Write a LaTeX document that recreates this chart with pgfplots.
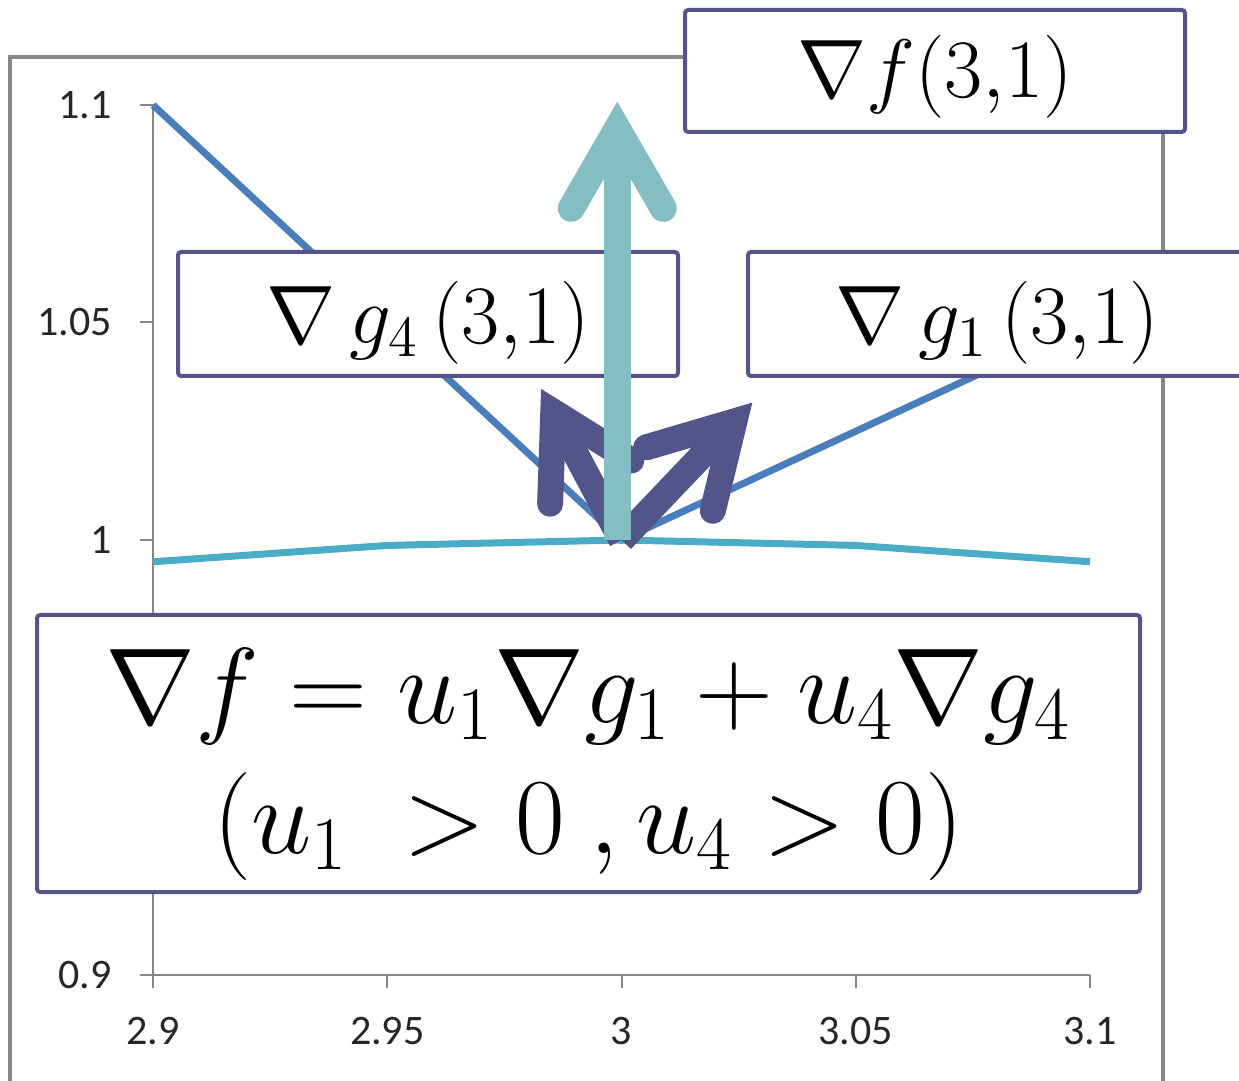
\RequirePackage{fix-cm}
\documentclass[border=0pt]{standalone}
\usepackage{fontspec}
\setmainfont{Carlito}
\usepackage{pgfplots}
\pgfplotsset{compat=1.18}
\usetikzlibrary{calc}

\definecolor{axisgray}{RGB}{134,134,134}
\definecolor{framegray}{RGB}{136,136,136}
\definecolor{boxpurple}{RGB}{84,84,138}
\definecolor{arrowpurple}{RGB}{82,84,138}
\definecolor{arrowteal}{RGB}{132,190,194}
\definecolor{lineblue}{RGB}{74,126,187}
\definecolor{curvecyan}{RGB}{75,172,198}

\begin{document}
\begin{tikzpicture}
\useasboundingbox (0,0) rectangle (309.75pt,270pt);
% chart area frame
\draw[framegray, line width=1pt] (2.5pt,-5pt) rectangle (290.75pt,255.75pt);

\begin{axis}[
  at={(38.25pt,26.25pt)}, anchor=south west,
  width=234.25pt, height=217.5pt, scale only axis,
  xmin=2.9, xmax=3.1, ymin=0.9, ymax=1.1,
  axis x line*=bottom, axis y line*=left,
  axis line style={axisgray, line width=0.5pt},
  xtick={2.9,2.95,3,3.05,3.1},
  xticklabels={2.9,2.95,3,3.05,3.1},
  ytick={0.9,0.95,1,1.05,1.1},
  yticklabels={0.9,0.95,1,1.05,1.1},
  tick align=outside,
  major tick length=3.25pt,
  tick style={axisgray, line width=0.5pt},
  ticklabel style={font=\fontsize{10.5}{12.5}\selectfont, text=black!85},
  xticklabel style={yshift=-3.75pt},
  yticklabel style={xshift=-3.5pt},
  clip=false,
]
% constraint boundaries g4 (left) and g1 (right)
\addplot[lineblue, line width=1.75pt] coordinates {
  (2.9,1.1) (2.95,1.05) (3,1) (3.05,1.025) (3.1,1.05)};
% level curve of f through (3,1)
\addplot[curvecyan, line width=1.75pt] coordinates {
  (2.9,0.995) (2.95,0.99875) (3,1) (3.05,0.99875) (3.1,0.995)};

% gradient vectors at (3,1): start points and arrowhead vertices
\coordinate (O)  at (axis cs:3,1);
\coordinate (Sf) at (axis cs:2.9991,1);
\coordinate (Vf) at (axis cs:2.9991,1.09455);
\coordinate (V4) at (axis cs:2.98544,1.02947);
\coordinate (V1) at (axis cs:3.02410,1.02726);
\end{axis}

% labels
\draw[boxpurple, line width=1pt, fill=white, rounded corners=0.8pt]
  (171.25pt,237pt) rectangle (296.25pt,267.5pt);
\node[font=\fontsize{20.75}{24}\selectfont] at (233.75pt,250.75pt) {$\nabla f(3{,}1)$};

\draw[boxpurple, line width=1pt, fill=white, rounded corners=0.8pt]
  (44.5pt,176pt) rectangle (169.5pt,207pt);
\node[font=\fontsize{20.75}{24}\selectfont] at (107pt,189.25pt) {$\nabla\,g_4\,(3{,}1)$};

\draw[boxpurple, line width=1pt, fill=white, rounded corners=0.8pt]
  (187pt,176pt) rectangle (311.5pt,207pt);
\node[font=\fontsize{20.75}{24}\selectfont] at (249.25pt,189.25pt) {$\nabla\,g_1\,(3{,}1)$};

% purple gradients of g4 and g1
\begin{scope}[arrowpurple, line width=6.5pt]
  \draw[line cap=butt] (O) -- (V4);
  \draw[line cap=round, line join=miter]
    ($(V4)!23pt!30:(O)$) -- (V4) -- ($(V4)!23pt!-30:(O)$);
  \draw[line cap=butt] (O) -- (V1);
  \draw[line cap=round, line join=miter]
    ($(V1)!23pt!30:(O)$) -- (V1) -- ($(V1)!23pt!-30:(O)$);
\end{scope}
% teal gradient of f
\begin{scope}[arrowteal, line width=6.75pt]
  \draw[line cap=butt] (Sf) -- (Vf);
  \draw[line cap=round, line join=miter]
    ($(Vf)!23pt!30:(Sf)$) -- (Vf) -- ($(Vf)!23pt!-30:(Sf)$);
\end{scope}

\draw[boxpurple, line width=1pt, fill=white, rounded corners=0.8pt]
  (9.25pt,47pt) rectangle (285pt,116.25pt);
\node[font=\fontsize{27}{32.5}\selectfont, align=center] at (147.125pt,79pt)
  {$\nabla f=u_1\nabla g_1+u_4\nabla g_4$\\$(u_1\ >0\ ,u_4>0)$};
\end{tikzpicture}
\end{document}
